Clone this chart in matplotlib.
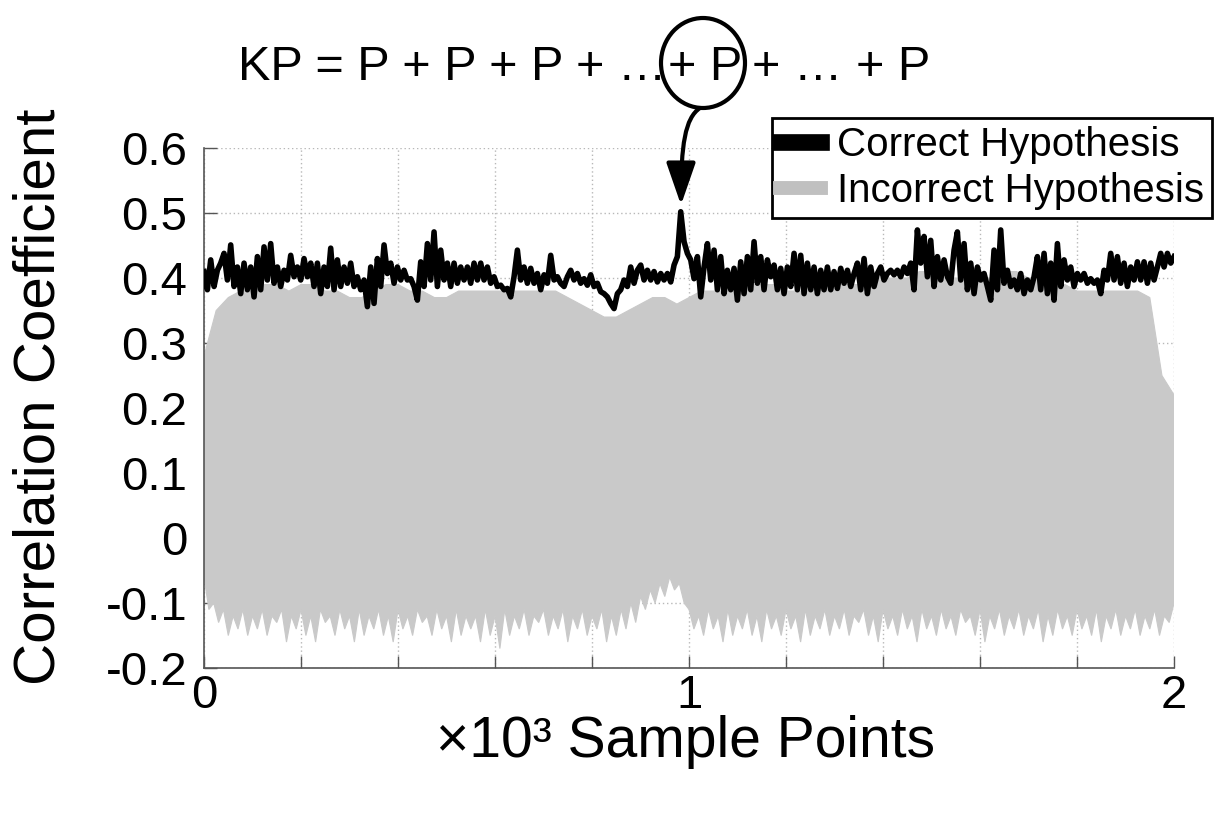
import numpy as np
import matplotlib
matplotlib.use("Agg")
import matplotlib.pyplot as plt
from matplotlib.lines import Line2D
from matplotlib.patches import Ellipse, FancyArrowPatch
from matplotlib.path import Path

plt.rcParams['font.family'] = ['Liberation Sans', 'DejaVu Sans']

# correct hypothesis trace at equal steps (x in 10^3 samples)
black_part1 = [
    0.410, 0.382, 0.428, 0.387, 0.412, 0.423, 0.438, 0.397, 0.451, 0.387,
    0.417, 0.376, 0.423, 0.382, 0.417, 0.371, 0.433, 0.382, 0.448, 0.397,
    0.453, 0.392, 0.417, 0.387, 0.412, 0.397, 0.435, 0.402, 0.417, 0.397,
    0.430, 0.402, 0.423, 0.387, 0.423, 0.376, 0.417, 0.387, 0.446, 0.382,
    0.428, 0.387, 0.417, 0.392, 0.423, 0.387, 0.402, 0.382, 0.397, 0.356,
    0.417, 0.361, 0.430, 0.387, 0.451, 0.407, 0.423, 0.392, 0.417, 0.397,
    0.412, 0.397, 0.399, 0.387, 0.366, 0.425, 0.387, 0.453, 0.397, 0.471,
    0.387, 0.443, 0.397, 0.423, 0.387, 0.423, 0.392, 0.417, 0.397, 0.417,
    0.392, 0.423, 0.397, 0.423, 0.397, 0.417, 0.392, 0.402, 0.387, 0.389,
    0.382, 0.384, 0.371, 0.402, 0.443, 0.397, 0.417, 0.392]
black_part2 = [
    0.415, 0.392, 0.407, 0.382, 0.405, 0.392, 0.435, 0.397, 0.402, 0.392,
    0.387, 0.402, 0.412, 0.397, 0.407, 0.392, 0.399, 0.389, 0.405, 0.387,
    0.392, 0.379, 0.376, 0.371, 0.361, 0.353, 0.376, 0.382, 0.397, 0.387,
    0.417, 0.392, 0.412, 0.420, 0.397, 0.412, 0.397, 0.410, 0.394, 0.407,
    0.397, 0.407, 0.394, 0.420, 0.433, 0.502, 0.456, 0.438, 0.428, 0.399,
    0.433, 0.371, 0.417, 0.453, 0.397, 0.443, 0.382, 0.433, 0.376, 0.412,
    0.382, 0.415, 0.366, 0.425, 0.376, 0.433, 0.382, 0.456, 0.392, 0.433,
    0.382, 0.428, 0.402, 0.420, 0.382, 0.415, 0.376, 0.417, 0.387, 0.438,
    0.382, 0.435, 0.376, 0.423, 0.382, 0.417, 0.376, 0.412, 0.382, 0.417,
    0.382, 0.410, 0.384, 0.415, 0.392, 0.412, 0.387, 0.407]
black_part3 = [
    0.423, 0.382, 0.430, 0.376, 0.417, 0.387, 0.407, 0.417, 0.397, 0.407,
    0.412, 0.405, 0.412, 0.402, 0.417, 0.407, 0.423, 0.382, 0.474, 0.423,
    0.464, 0.402, 0.458, 0.387, 0.433, 0.397, 0.428, 0.402, 0.392, 0.443,
    0.471, 0.397, 0.453, 0.382, 0.423, 0.376, 0.417, 0.397, 0.407, 0.387,
    0.366, 0.443, 0.382, 0.474, 0.392, 0.412, 0.387, 0.397, 0.382, 0.407,
    0.376, 0.397, 0.382, 0.402, 0.433, 0.382, 0.438, 0.376, 0.423, 0.366,
    0.453, 0.387, 0.428, 0.397, 0.417, 0.387, 0.407, 0.397, 0.407, 0.392,
    0.399, 0.392, 0.397, 0.376, 0.412, 0.397, 0.438, 0.397, 0.433, 0.392,
    0.423, 0.387, 0.417, 0.397, 0.425, 0.397, 0.425, 0.392, 0.423, 0.397,
    0.417, 0.438, 0.417, 0.438, 0.423, 0.433]

# incorrect hypotheses: upper edge of the grey mass (every 0.025)
gray_top = [
    0.28, 0.35, 0.37, 0.38, 0.38, 0.39, 0.39, 0.38, 0.39, 0.39,
    0.38, 0.38, 0.37, 0.37, 0.38, 0.39, 0.39, 0.38, 0.38, 0.37,
    0.37, 0.38, 0.38, 0.38, 0.38, 0.38, 0.38, 0.38, 0.38, 0.38,
    0.37, 0.36, 0.35, 0.34, 0.34, 0.35, 0.36, 0.37, 0.37, 0.36,
    0.37, 0.38, 0.38, 0.38, 0.38, 0.39, 0.39, 0.39, 0.38, 0.38,
    0.38, 0.39, 0.39, 0.39, 0.39, 0.40, 0.40, 0.40, 0.40, 0.41,
    0.41, 0.40, 0.40, 0.40, 0.40, 0.40, 0.41, 0.41, 0.40, 0.40,
    0.39, 0.39, 0.38, 0.38, 0.38, 0.38, 0.38, 0.38, 0.37, 0.25,
    0.22]
# lower edge of the grey mass with its downward spikes (every 0.01)
gray_bottom = [
    -0.06, -0.11, -0.10, -0.13, -0.11, -0.15, -0.12, -0.14, -0.11, -0.15,
    -0.12, -0.14, -0.11, -0.15, -0.12, -0.13, -0.11, -0.16, -0.12, -0.14,
    -0.11, -0.15, -0.12, -0.16, -0.11, -0.13, -0.12, -0.15, -0.11, -0.14,
    -0.12, -0.16, -0.11, -0.15, -0.12, -0.14, -0.11, -0.15, -0.12, -0.16,
    -0.11, -0.14, -0.12, -0.15, -0.11, -0.13, -0.12, -0.15, -0.11, -0.14,
    -0.12, -0.16, -0.11, -0.15, -0.12, -0.14, -0.12, -0.16, -0.11, -0.15,
    -0.12, -0.17, -0.11, -0.15, -0.12, -0.14, -0.11, -0.15, -0.12, -0.13,
    -0.11, -0.15, -0.12, -0.14, -0.11, -0.16, -0.12, -0.14, -0.11, -0.15,
    -0.12, -0.14, -0.11, -0.16, -0.12, -0.15, -0.11, -0.14, -0.10, -0.13,
    -0.09, -0.11, -0.08, -0.10, -0.07, -0.09, -0.06, -0.08, -0.07, -0.10,
    -0.11, -0.14, -0.12, -0.15, -0.11, -0.14, -0.12, -0.16, -0.11, -0.15,
    -0.12, -0.14, -0.11, -0.15, -0.12, -0.16, -0.11, -0.14, -0.12, -0.15,
    -0.11, -0.14, -0.12, -0.16, -0.11, -0.15, -0.12, -0.14, -0.11, -0.15,
    -0.12, -0.14, -0.11, -0.15, -0.12, -0.13, -0.11, -0.15, -0.12, -0.16,
    -0.11, -0.14, -0.12, -0.15, -0.11, -0.14, -0.12, -0.16, -0.11, -0.14,
    -0.12, -0.15, -0.11, -0.14, -0.12, -0.15, -0.11, -0.13, -0.12, -0.15,
    -0.11, -0.16, -0.12, -0.14, -0.11, -0.15, -0.12, -0.14, -0.11, -0.15,
    -0.12, -0.14, -0.11, -0.16, -0.12, -0.15, -0.11, -0.14, -0.12, -0.15,
    -0.11, -0.14, -0.12, -0.15, -0.11, -0.16, -0.12, -0.14, -0.11, -0.15,
    -0.12, -0.14, -0.11, -0.15, -0.12, -0.14, -0.11, -0.15, -0.12, -0.13,
    -0.10]

y_ticks = [-0.2, -0.1, 0, 0.1, 0.2, 0.3, 0.4, 0.5, 0.6]
y_labels = ['-0.2', '-0.1', '0', '0.1', '0.2', '0.3', '0.4', '0.5', '0.6']
x_ticks = [0, 1, 2]
x_labels = ['0', '1', '2']
legend_labels = ['Correct Hypothesis', 'Incorrect Hypothesis']
formula_left = 'KP = P + P + P + \u2026'
formula_mark = '+ P'
formula_right = '+ \u2026 + P'

black = np.array(black_part1 + black_part2 + black_part3)
x_black = np.linspace(0, 2, len(black))
x_top = np.linspace(0, 2, len(gray_top))
x_bot = np.linspace(0, 2, len(gray_bottom))

fig = plt.figure(figsize=(12.24, 8.23), dpi=100)
ax = fig.add_axes([0.1667, 0.1883, 0.7925, 0.6318])

gray = '#c9c9c9'
ax.fill(np.concatenate([x_top, x_bot[::-1]]),
        np.concatenate([gray_top, np.array(gray_bottom)[::-1]]),
        color=gray, lw=0.8, ec=gray, zorder=2)
ax.plot(x_black, black, color='black', lw=4, zorder=3)

ax.set_xlim(0, 2)
ax.set_ylim(-0.2, 0.6)
ax.set_xticks(x_ticks)
ax.set_xticklabels(x_labels)
ax.set_xticks(np.arange(0, 2.01, 0.2), minor=True)
ax.set_yticks(y_ticks)
ax.set_yticklabels(y_labels)
ax.set_axisbelow(True)
ax.grid(True, which='both', axis='x', ls=(0, (1, 2)), color='#b8b8b8', lw=1)
ax.grid(True, which='major', axis='y', ls=(0, (1, 2)), color='#b8b8b8', lw=1)
ax.tick_params(axis='both', which='both', direction='in', length=9, width=1,
               color='#555555', labelsize=34)
ax.tick_params(axis='y', pad=12)
ax.tick_params(axis='x', pad=4)
for s in ['top', 'right']:
    ax.spines[s].set_visible(False)
for s in ['left', 'bottom']:
    ax.spines[s].set_color('#555555')
    ax.spines[s].set_linewidth(1.2)

fig.text(40 / 1224, 1 - 397 / 823, 'Correlation Coefficient', rotation=90,
         ha='center', va='center', fontsize=42)
fig.text(685 / 1224, 1 - 742 / 823, '\u00d710\u00b3 Sample Points',
         ha='center', va='center', fontsize=41)

base = 1 - 80 / 823
fig.text(666 / 1224, base, formula_left, ha='right', va='baseline', fontsize=35)
fig.text(705 / 1224, base, formula_mark, ha='center', va='baseline', fontsize=35)
fig.text(752 / 1224, base, formula_right, ha='left', va='baseline', fontsize=35)

handles = [Line2D([], [], color='black', lw=12),
           Line2D([], [], color='#c0c0c0', lw=10)]
leg = fig.legend(handles, legend_labels, loc='upper right',
                 bbox_to_anchor=(1212 / 1224, 1 - 118 / 823),
                 bbox_transform=fig.transFigure, fontsize=29,
                 fancybox=False, edgecolor='black', framealpha=1,
                 handlelength=1.0, handletextpad=0.4, borderpad=0.2,
                 labelspacing=0.2, borderaxespad=0)
leg.get_frame().set_linewidth(2)

circle = Ellipse((703 / 1224, 1 - 63 / 823), 84 / 1224, 90 / 823,
                 transform=fig.transFigure, fill=False, ec='black', lw=3)
fig.patches.append(circle)

arrow_px = [(700, 108), (685, 118), (681, 145), (681, 205)]
arrow_path = Path([(px / 1224, 1 - py / 823) for px, py in arrow_px],
                  [Path.MOVETO, Path.CURVE4, Path.CURVE4, Path.CURVE4])
arrow = FancyArrowPatch(path=arrow_path, transform=fig.transFigure,
                        arrowstyle='-|>,head_length=1.3,head_width=0.45',
                        mutation_scale=20, color='black', lw=3)
fig.patches.append(arrow)

fig.savefig('out.png', dpi=100)
